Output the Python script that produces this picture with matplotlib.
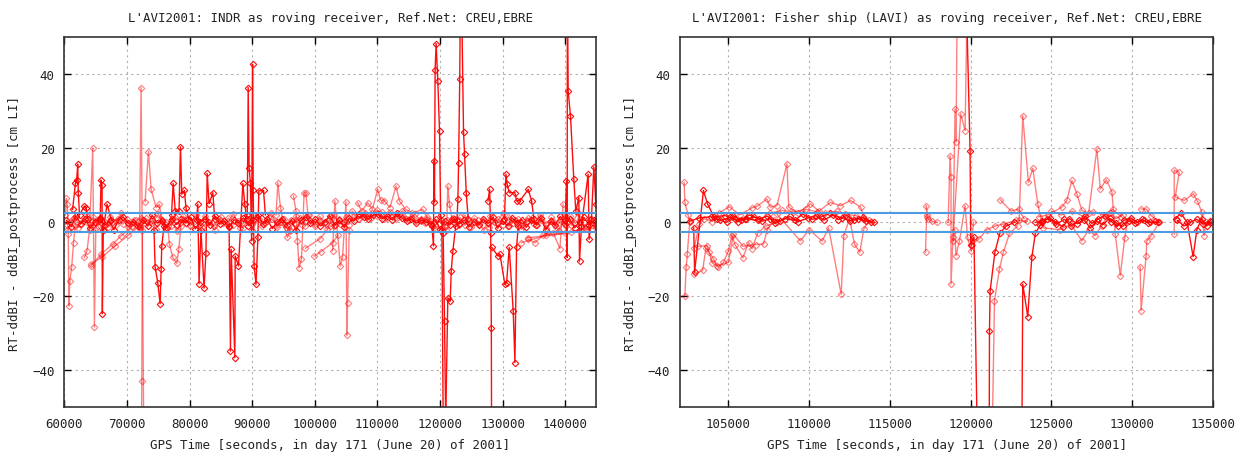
import matplotlib
matplotlib.use("Agg")
from matplotlib import pyplot as plt

plt.rcParams['font.family'] = ['DejaVu Sans Mono']
plt.rcParams['font.size'] = 9

title_left = "L'AVI2001: INDR as roving receiver, Ref.Net: CREU,EBRE"
title_right = "L'AVI2001: Fisher ship (LAVI) as roving receiver, Ref.Net: CREU,EBRE"
x_label = "GPS Time [seconds, in day 171 (June 20) of 2001]"
y_label = "RT-ddBI - ddBI_postprocess [cm LI]"

left_xticks = [60000, 70000, 80000, 90000, 100000, 110000, 120000, 130000, 140000]
right_xticks = [105000, 110000, 115000, 120000, 125000, 130000, 135000]
y_ticks = [-40, -20, 0, 20, 40]
tolerance = 2.6   # blue band

# ---------------- left panel (INDR) : (time, value) ----------------
left_noise_a = [
    (60300, 0.5), (61100, -1.2), (61800, 1.8), (62600, -0.4), (63300, 0.9), (64100, -1.6),
    (64900, 0.2), (65600, 1.1), (66400, -0.8), (67200, 0.3), (67900, -2.0), (68700, 0.7),
    (69400, 1.4), (70200, -0.3), (71000, 0.1), (71700, -1.1), (72500, 0.6), (73300, -0.9),
    (74000, 1.9), (74800, -0.2), (75600, 0.4), (76300, -1.5), (77100, 1.0), (77900, -0.6),
    (78600, 0.8), (79400, -0.1), (80200, 1.3), (80900, -1.8), (81700, 0.2), (82500, 0.9),
    (83200, -0.7), (84000, 1.6), (84800, -0.5), (85500, 0.3), (86300, -1.3), (87100, 0.7),
    (87800, -0.2), (88600, 1.2), (89400, -0.9), (90100, 0.5), (90900, 2.1), (91700, -0.4),
    (92400, 0.8), (93200, -1.7), (94000, 0.1), (94700, 1.0), (95500, -0.6), (96300, 0.4),
    (97000, -2.2), (97800, 0.6), (98600, 1.5), (99300, -0.3), (100100, 0.9), (100900, -1.0),
    (101600, 0.2), (102400, 1.8), (103200, -0.8), (103900, 0.5), (104700, -1.4), (105500, 1.1),
    (106200, 0.3), (107000, 2.3), (107800, 1.5), (108500, 0.8), (109300, 1.9), (110100, 2.2),
    (110800, 1.0), (111600, 1.7), (112400, 0.6), (113100, 2.4), (113900, 1.2), (114700, 0.4),
    (115400, 0.9), (116200, -0.2), (117000, 0.5), (117700, 0.1), (118500, -0.5), (119300, 0.8),
    (120000, -1.9), (120800, 0.3), (121600, -0.7), (122300, 1.0), (123100, -0.4), (123900, 0.6),
    (124600, -1.2), (125400, 0.2), (126200, -0.8), (126900, 0.9), (127700, -0.3), (128500, 1.4),
    (129200, -1.6), (130000, 0.4), (130800, -0.9), (131500, 1.2), (132300, -0.1), (133100, 0.7),
    (133800, -1.3), (134600, 0.5), (135400, -0.6), (136100, 1.1), (136900, -2.0), (137700, 0.3),
    (138400, -0.8), (139200, 1.6), (140000, -0.4), (140700, 0.9), (141500, -1.5), (142300, 0.2),
    (143000, 1.3), (143800, -0.7), (144600, 0.5),
]
left_noise_b = [
    (60600, -1.8), (61500, 1.2), (62500, -0.5), (63500, 2.0), (64400, -1.0), (65300, 0.3),
    (66300, -2.2), (67300, 1.5), (68200, -0.8), (69100, 2.4), (70100, -1.4), (71100, 0.6),
    (72000, -1.9), (73000, 1.1), (74000, -0.3), (75000, 2.2), (76000, -1.6), (77000, 0.4),
    (78000, -2.4), (79000, 1.7), (80000, -0.6), (81000, 2.0), (82000, -1.2), (83000, 0.2),
    (84000, -2.1), (85000, 1.4), (86000, -0.4), (87000, 2.3), (88000, -1.5), (89000, 0.7),
    (90000, -2.0), (91000, 1.0), (92000, -0.2), (93000, 2.4), (94000, -1.3), (95000, 0.9),
    (96000, -2.3), (97000, 1.6), (98000, -0.7), (99000, 2.1), (100000, -1.0), (101000, 0.4),
    (102000, -1.8), (103000, 2.0), (104000, -0.5), (105000, 1.3), (106000, 3.0), (107000, 0.8),
    (108000, 2.6), (109000, 1.2), (110000, 3.4), (111000, 0.9), (112000, 2.8), (113000, 1.5),
    (114000, 3.1), (115000, 0.6), (116000, 2.2), (117000, 0.4), (118000, 1.3), (119000, -1.5),
    (120000, 0.8), (121000, -2.0), (122000, 1.1), (123000, -0.6), (124000, 2.0), (125000, -1.4),
    (126000, 0.5), (127000, -2.2), (128000, 1.6), (129000, -0.3), (130000, 2.4), (131000, -1.1),
    (132000, 0.7), (133000, -1.9), (134000, 1.2), (135000, -0.4), (136000, 2.1), (137000, -1.5),
    (138000, 0.3), (139000, -2.3), (140000, 1.8), (141000, -0.8), (142000, 2.5), (143000, -1.2),
    (144000, 0.6), (144900, -0.9),
]
left_noise_c = [
    (60450, -0.6), (61300, 0.9), (62100, -1.5), (62900, 0.4), (63800, -0.2), (64600, 1.3),
    (65400, -0.9), (66200, 0.6), (67000, -1.3), (67700, 0.2), (68500, 1.0), (69300, -0.5),
    (70000, 0.8), (70800, -1.2), (71500, 0.5), (72300, 1.2), (73100, -0.4), (73900, 0.3),
    (74600, -1.8), (75400, 0.9), (76200, 0.1), (77000, -0.9), (77700, 1.5), (78500, -0.3),
    (79300, 0.6), (80100, -1.0), (80800, 0.4), (81600, -0.6), (82400, 1.7), (83100, 0.0),
    (83900, -1.1), (84700, 0.8), (85400, -0.3), (86200, 1.1), (87000, -0.7), (87700, 0.3),
    (88500, -1.6), (89300, 0.9), (90000, -0.2), (90800, 1.4), (91600, -1.1), (92300, 0.4),
    (93100, 0.9), (93900, -0.6), (94600, 0.2), (95400, -1.4), (96200, 0.7), (96900, -0.1),
    (97700, 1.2), (98500, -0.9), (99200, 0.3), (100000, -0.5), (100800, 1.6), (101500, -0.3),
    (102300, 0.6), (103100, -1.1), (103800, 1.0), (104600, 0.2), (105400, -0.6), (106100, 1.5),
    (106900, 0.9), (107700, 2.0), (108400, 1.3), (109200, 2.6), (110000, 1.6), (110700, 2.8),
    (111500, 1.2), (112300, 2.1), (113000, 1.0), (113800, 1.8), (114600, 0.8), (115300, 1.5),
    (116100, 0.3), (116900, 1.0), (117600, -0.3), (118400, 0.4), (119200, -0.8), (120100, 0.5),
    (120900, -1.0), (121700, 0.7), (122400, -0.2), (123200, 1.3), (124000, -0.8), (124700, 0.4),
    (125500, 1.1), (126300, -0.5), (127000, 0.6), (127800, -1.3), (128600, 0.2), (129300, 0.9),
    (130100, -0.6), (130900, 1.5), (131600, -0.2), (132400, 0.8), (133200, -1.0), (133900, 0.3),
    (134700, 1.2), (135500, -0.8), (136200, 0.5), (137000, -0.4), (137800, 1.3), (138500, -1.2),
    (139300, 0.4), (140100, -0.9), (140800, 1.7), (141600, -0.3), (142400, 0.9), (143100, -1.6),
    (143900, 0.6), (144700, -0.2),
]
left_start = [(60150, 2.0), (60300, 6.5), (60450, 4.9), (60600, -3.2), (60700, -22.6),
              (60850, -15.9), (61150, -12.0), (61450, -5.5), (61700, -1.0)]
left_62k = [(61300, 3.5), (61740, 10.5), (61950, 11.4), (62110, 15.7), (62200, 8.0),
            (62400, 2.0), (63180, 4.4), (63440, 4.0), (63700, 1.0)]
left_64k = [(63180, -9.5), (63600, -7.7), (64000, -2.0), (64510, 20.0), (64780, -28.3),
            (65000, -1.5), (65500, 0.8)]
left_diag_a = [(64240, -11.8), (65840, -8.6), (67700, -5.9), (69040, -3.7), (70800, -1.0)]
left_diag_b = [(64300, -11.2), (66000, -9.4), (68000, -6.5), (70200, -3.5), (72000, -1.0)]
left_66k = [(65700, 1.0), (65840, 11.4), (66000, 10.0), (66050, -24.7), (66200, -2.0),
            (66800, 4.9), (67500, 0.5)]
left_72k_up = [(72000, -1.4), (72240, 36.4), (72700, -65.0)]
left_72k_dn = [(72300, -65.0), (72350, -42.9), (72450, -2.0)]
left_73k = [(72880, 5.6), (73410, 19.1), (73840, 8.9), (74640, 4.0), (75170, 4.9), (75500, 0.5)]
left_75k = [(74300, -2.0), (74480, -12.1), (74900, -16.3), (75280, -22.0), (75440, -12.7),
            (75540, -6.4), (75900, -1.0)]
left_77k = [(76500, -1.0), (76770, -5.9), (77300, -9.5), (77940, -11.1), (78260, -7.3), (78600, -1.0)]
left_78k = [(77100, 2.0), (77360, 10.5), (77700, 3.0), (78300, 3.0), (78530, 20.4), (78740, 7.6),
            (79170, 8.6), (79400, 4.0), (79800, 1.0)]
left_82k = [(81100, 0.5), (81300, 4.9), (81500, -16.6), (81800, -2.0), (82300, -17.8),
            (82600, -8.2), (82800, 13.2), (83100, 5.0), (83700, 8.0), (84000, 1.0)]
left_87k = [(86300, -1.0), (86520, -34.8), (86630, -7.3), (87220, -36.6), (87270, -9.1),
            (87800, -11.8), (88500, 10.5), (88800, 5.0), (89100, 1.0)]
left_90k = [(89200, 2.0), (89350, 36.4), (89500, 14.8), (89700, 10.7), (89900, -5.0),
            (90050, 42.7), (90150, 8.6), (90300, -11.8), (90600, -16.8), (90900, -4.1),
            (91050, 8.5), (91800, 8.6), (92100, 2.0)]
left_95k = [(93800, 2.0), (94090, 10.7), (94500, 4.0), (95000, -0.5), (95620, -4.1), (96000, -2.0)]
left_97k = [(96580, 7.1), (97000, 3.0), (97220, -5.0), (97490, -12.3), (97860, -10.0),
            (98290, 8.0), (98560, 8.0), (98900, 2.0)]
left_diag_c = [(99890, -9.1), (101000, -7.9), (102830, -5.5), (103700, -3.5)]
left_diag_d = [(98500, -7.0), (100800, -4.5), (102500, -1.0)]
left_104k = [(102830, -7.7), (103200, 5.8), (104060, -11.8), (104430, -9.5), (104970, 5.6),
             (105130, -30.5), (105230, -21.7), (105500, -2.0)]
left_110k = [(106830, 5.3), (107500, 3.0), (108440, 5.3), (109200, 3.5), (110040, 8.9),
             (110500, 6.0), (111110, 5.8), (112000, 4.0), (112980, 9.8), (113510, 5.8),
             (114500, 3.5), (115600, 2.5), (117250, 3.5), (118000, 1.0)]
left_119k = [(118700, -1.0), (118960, -6.4), (119010, 16.6), (119120, 5.5), (119220, 41.2),
             (119380, 48.3), (119650, 38.2), (119920, 24.7), (120100, 2.0), (120500, -3.0),
             (120720, -26.7), (120990, -65.0)]
left_120k_dn = [(120300, -2.0), (120550, -65.0)]
left_121k = [(120800, -65.0), (121250, -20.4), (121630, -21.3), (121790, -13.2), (122060, -7.7),
             (122500, -1.0)]
left_123k = [(122700, 0.5), (122860, 6.2), (122970, 16.1), (123150, 38.6), (123250, 60.0),
             (123450, 60.0), (123760, 24.4), (123920, 18.4), (124190, 8.0), (124500, 1.0)]
left_121k_up = [(121100, 0.5), (121250, 9.8), (121500, 5.0), (121900, 1.0)]
left_128k = [(127660, 5.8), (127930, 8.9), (128100, -3.0), (128200, -28.5), (128250, -65.0)]
left_129k = [(128300, -6.8), (129260, -9.1), (129570, -8.6), (130370, -16.8), (130640, -16.3),
             (131060, -6.8), (131700, -24.1), (131970, -37.9), (132230, -6.8), (132500, -1.0)]
left_131k = [(130300, 1.0), (130530, 13.0), (130740, 10.3), (131060, 8.0), (131970, 8.0),
             (132230, 5.8), (132770, 5.8), (134100, 8.9), (134630, 5.8), (135000, 1.0)]
left_137k = [(134100, -4.6), (135160, -5.5), (136500, -3.5), (138090, -2.8), (139150, -7.1),
             (139680, 4.9)]
left_140k = [(140000, 0.5), (140210, 11.2), (140320, -9.5), (140350, 65.0), (140480, 35.5),
             (140850, 28.7), (141380, 11.6), (141700, 3.0), (142180, 6.7), (142290, -10.5),
             (142600, -1.0), (143670, 13.0), (143830, -4.6), (144200, 1.0), (144580, 15.0),
             (144900, 4.9)]
left_diag_e = [(133000, -5.5), (137000, -3.5), (141000, -2.5), (145000, -1.5)]
left_diag_f = [(134000, -4.2), (140000, -3.0), (145000, -0.8)]

# ---------------- right panel (LAVI) : (time, value) ----------------
right_start = [(102250, 10.8), (102300, 5.4), (102500, 2.0), (102600, 0.0), (102450, -8.6),
               (102380, -12.2), (102300, -19.8)]
right_b1 = [(102850, -1.5), (102900, -13.5), (103450, 8.6), (103700, 5.0), (104100, 1.5),
            (104800, 1.8), (105400, 0.8), (106000, 1.0), (106800, 0.5)]
right_b2 = [(102880, -14.0), (103400, -13.0), (103600, -7.0), (103800, -8.0), (104070, -9.9),
            (104380, -12.2), (104690, -10.8), (105000, -7.7), (105210, -3.6), (105400, -6.0),
            (105890, -9.6), (106250, -5.5), (106450, -7.2), (106800, -3.0), (107300, -1.0),
            (108000, 0.0)]
right_b3 = [(102870, -7.0), (103200, -0.5), (103500, 1.0), (104000, 0.2), (104400, 2.5),
            (105060, 4.2), (105700, 2.0), (106450, 3.9), (106760, 4.3), (107380, 6.3),
            (107590, 4.1), (108000, 4.5), (108620, 15.8), (108730, 4.1), (109300, 2.5),
            (110070, 5.0), (110600, 3.0), (111310, 5.4), (111930, 4.5), (112560, 5.9),
            (113180, 4.1), (113400, 1.0)]
right_b4 = [(103100, -6.5), (103660, -6.3), (104000, -11.0), (104300, -11.8), (105000, -10.8),
            (105300, -3.2), (105900, -6.5), (106700, -6.0), (107170, -5.9), (107400, -2.0),
            (107800, 0.5)]
right_b5 = [(102600, 0.3), (103200, 1.2), (103900, 1.5), (104500, 0.5), (105100, 1.3),
            (105600, 0.2), (106100, 0.8), (106600, 1.4), (107100, 0.3), (107600, 1.0),
            (108200, 0.4), (108800, 1.6), (109300, 0.2), (109900, 1.1), (110400, 1.8),
            (110900, 0.6), (111500, 2.0), (112000, 1.2), (112500, 0.4), (113000, 1.0),
            (113500, 0.3), (114000, 0.0)]
right_b6 = [(108000, 2.2), (109450, -5.0), (110000, -2.0), (110800, -5.1), (111200, -1.5),
            (111980, -19.5), (112140, -3.6), (112500, 1.0), (112800, -5.9), (113130, -8.1),
            (113380, -1.8), (113700, 0.5)]
right_b7 = [(107600, 2.5), (108300, 3.2), (109000, 2.8), (109800, 3.5), (110500, 2.8),
            (111000, 2.5), (111700, 3.0), (112200, 2.2), (112900, 1.8), (113300, 0.8)]
right_b8 = [(104300, 0.8), (104900, 0.0), (105300, 1.8), (105800, 0.6), (106300, 2.0),
            (106900, 0.9), (107400, 1.7), (107900, -0.3), (108500, 1.0), (109100, 0.5),
            (109600, 2.2), (110200, 0.8), (110700, 1.4), (111300, 2.6), (111800, 0.7),
            (112300, 1.9), (112800, 0.6), (113300, 1.3), (113800, 0.2)]
right_117k = [(117200, -8.1), (117270, 2.0), (117250, 4.5), (117320, 1.5), (117380, 0.9),
              (117600, 0.3), (117890, 0.0)]
right_119k_a = [(118600, 0.0), (118720, 18.0), (118780, 12.2), (118780, -16.7), (118900, -4.0),
                (119030, 30.6), (119090, 21.7), (119170, 65.0)]
right_119k_b = [(118900, -5.0), (119380, 29.3), (119650, 24.8), (119800, 65.0)]
right_120k_a = [(119700, 65.0), (119960, 19.4), (120000, -6.0), (120200, -4.0), (120430, -65.0)]
right_120k_b = [(119000, -2.0), (119090, -9.0), (119300, -5.0), (119650, 4.5), (119800, -4.0),
                (120020, -7.7), (120170, 0.0)]
right_121k_a = [(121140, -65.0), (121160, -29.3), (121200, -18.5), (121500, -8.0), (121800, -3.0),
                (122200, -1.0), (122700, 0.0)]
right_121k_b = [(121300, -65.0), (121470, -21.2), (121780, -12.6), (122020, -8.1), (122400, -3.0),
                (122900, -1.0)]
right_121k_c = [(120100, -6.0), (120500, -4.5), (121000, -2.0), (121500, -1.0), (122000, -0.5),
                (122800, 0.5), (123500, 0.3)]
right_123k_dn = [(123160, -65.0), (123220, -16.7), (123530, -25.5), (123780, -9.5), (124000, -3.0),
                 (124400, 0.0)]
right_123k_up = [(123000, 0.5), (123220, 28.8), (123570, 10.8), (123840, 14.6), (124150, 5.0),
                 (124400, 0.0)]
right_122k = [(121820, 6.1), (122500, 3.0), (122960, 3.6), (123300, 1.0)]
right_d1 = [(124000, 0.0), (124400, 0.3), (124900, 1.2), (125300, -0.5), (125800, 0.8),
            (126200, -1.0), (126700, 0.5), (127100, 1.6), (127500, -0.3), (127900, 0.9),
            (128300, 1.8), (128700, 0.2), (129100, -1.0), (129500, 0.6), (129900, 1.2),
            (130300, 0.0), (130700, 0.5), (131100, 0.0), (131600, 0.0)]
right_d2 = [(124200, 1.5), (124800, 2.0), (125640, 4.1), (125950, 5.9), (126260, 11.3),
            (126570, 7.7), (126880, 3.2), (127300, 2.5), (127810, 19.8), (128020, 9.0),
            (128390, 11.5), (128740, 8.3), (128950, -3.2), (129260, -14.4), (129530, -4.3),
            (129700, 0.0)]
right_d3 = [(124500, -1.5), (125500, -2.0), (126200, -0.5), (126880, -5.0), (127300, -2.0),
            (127700, -3.6), (128100, -1.0), (128600, 2.5), (129000, 1.0), (129400, 2.0)]
right_d4 = [(125000, 3.0), (125600, 2.0), (126300, 3.0), (127000, 1.5), (127600, 2.8),
            (128200, 2.0), (128800, 3.5), (129300, 1.5)]
right_d5 = [(124300, -0.8), (124700, 0.9), (125200, 0.2), (125700, -1.2), (126100, 1.0),
            (126600, -0.4), (127000, 0.7), (127400, -1.5), (127800, 0.3), (128200, -0.6),
            (128600, 1.1), (129000, -0.2), (129400, -1.1), (129800, 0.4), (130200, -0.3),
            (130600, 0.8), (131000, -0.2), (131400, 0.3)]
right_130k_dn = [(130490, -12.0), (130550, -23.9), (130860, -9.0), (130900, -5.1), (131170, -3.6),
                 (131680, 0.0)]
right_130k_up = [(130550, 3.6), (130860, 3.6), (131170, 1.8), (131680, 0.0)]
right_133k_a = [(132600, -3.2), (132600, 14.1), (132910, 13.5), (132660, 6.8), (133220, 5.9),
                (133790, 7.7), (134040, 5.7), (134310, 2.7), (134450, -3.6), (134550, 0.0),
                (134860, 0.0)]
right_133k_b = [(132700, 1.0), (133000, 2.5), (133400, 0.0), (133770, -9.3), (134000, -2.0),
                (134300, 1.0), (134600, -1.0), (134900, 0.0)]
right_133k_c = [(132800, 0.5), (133200, -1.0), (133600, 0.0), (134000, 0.8), (134400, -0.5),
                (134800, 0.3)]

# True = solid red, False = light red
left_tracks = [
    (left_noise_b, False), (left_noise_c, False), (left_start, False), (left_62k, True),
    (left_64k, False), (left_diag_a, False), (left_diag_b, False), (left_66k, True),
    (left_72k_up, False), (left_72k_dn, False), (left_73k, False), (left_75k, True),
    (left_77k, False), (left_78k, True), (left_82k, True), (left_87k, True), (left_90k, True),
    (left_95k, False), (left_97k, False), (left_diag_c, False), (left_diag_d, False),
    (left_104k, False), (left_110k, False), (left_119k, True), (left_120k_dn, True),
    (left_121k, True), (left_123k, True), (left_121k_up, False), (left_128k, True),
    (left_129k, True), (left_131k, True), (left_137k, False), (left_140k, True),
    (left_diag_e, False), (left_diag_f, False), (left_noise_a, True),
]
right_tracks = [
    (right_start, False), (right_b1, True), (right_b2, False), (right_b3, False),
    (right_b4, False), (right_b5, True), (right_b6, False), (right_b7, False), (right_b8, True),
    (right_117k, False), (right_119k_a, False), (right_119k_b, False), (right_120k_a, True),
    (right_120k_b, False), (right_121k_a, True), (right_121k_b, False), (right_121k_c, False),
    (right_123k_dn, True), (right_123k_up, False), (right_122k, False), (right_d1, True),
    (right_d2, False), (right_d3, False), (right_d4, False), (right_d5, True),
    (right_130k_dn, False), (right_130k_up, False), (right_133k_a, False), (right_133k_b, True),
    (right_133k_c, True),
]


def draw_track(ax, pts, dark):
    t = [p[0] for p in pts]
    v = [p[1] for p in pts]
    ax.plot(t, v, color='red', alpha=0.95 if dark else 0.5, lw=1.0,
            marker='D', ms=3.3, mfc='none', mew=0.8, zorder=2)


def setup_axes(ax, title, xlim, xticks):
    ax.set_xlim(*xlim)
    ax.set_ylim(-50, 50)
    ax.set_xticks(xticks)
    ax.set_yticks(y_ticks)
    ax.grid(True, color='#b0b0b0', linestyle=(0, (2, 3)), lw=0.8, zorder=0)
    ax.tick_params(direction='in', length=5, width=1, top=True, right=True, pad=7,
                   labelcolor='#222222')
    for s in ax.spines.values():
        s.set_linewidth(1.2)
        s.set_color('#333333')
    ax.axhline(tolerance, color='#4f9be0', lw=1.5, zorder=3)
    ax.axhline(-tolerance, color='#4f9be0', lw=1.5, zorder=3)
    ax.set_title(title, pad=12, fontsize=9, color='#222222')
    ax.set_xlabel(x_label, labelpad=6, color='#222222')
    ax.set_ylabel(y_label, labelpad=8, color='#222222')


fig = plt.figure(figsize=(12.38, 4.56), dpi=100)
ax1 = fig.add_axes([0.0521, 0.1046, 0.4297, 0.8114])
ax2 = fig.add_axes([0.5493, 0.1046, 0.4305, 0.8114])

for pts, dark in left_tracks:
    draw_track(ax1, pts, dark)
for pts, dark in right_tracks:
    draw_track(ax2, pts, dark)

setup_axes(ax1, title_left, (60000, 145000), left_xticks)
setup_axes(ax2, title_right, (102000, 135000), right_xticks)

fig.savefig("out.png", dpi=100)
